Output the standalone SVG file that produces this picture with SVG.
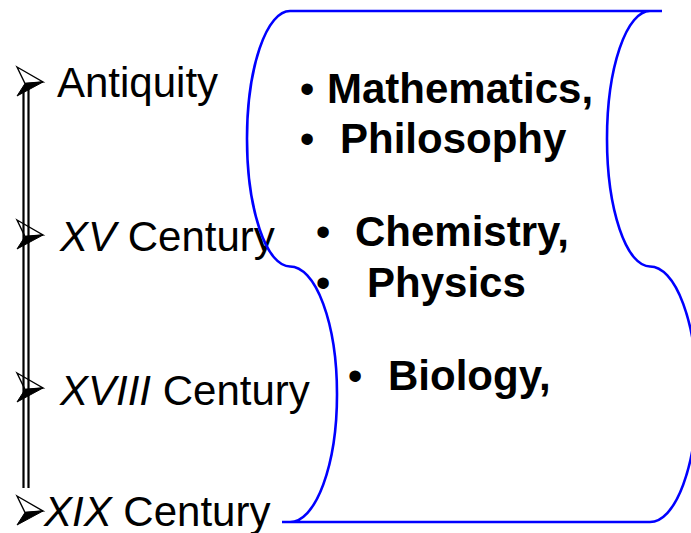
<svg xmlns="http://www.w3.org/2000/svg" width="691" height="533" viewBox="0 0 691 533">
<style>
.lt{font-family:"Liberation Sans",Arial,sans-serif;font-size:42px;fill:#000}
.rt{font-family:"Liberation Sans",Arial,sans-serif;font-size:42px;font-weight:bold;fill:#000}
.bl{font-family:"Liberation Sans",Arial,sans-serif;font-size:42px;fill:#000;text-anchor:middle}
.it{font-style:italic}
.rail{stroke:#000;stroke-width:2.2;fill:none}
.scroll{fill:none;stroke:#0000FF;stroke-width:2.6}
</style>
<defs>
<g id="arrowhead">
<polygon points="-26,-15 0,0 -18,1.5" fill="none" stroke="#000" stroke-width="1.4" stroke-linejoin="miter"/>
<polygon points="-18,1.5 0,0 -26,14" fill="#000" stroke="#000" stroke-width="1"/>
</g>
</defs>
<g id="timeline">
<line class="rail" x1="23.5" y1="88" x2="23.5" y2="488"/>
<line class="rail" x1="28.5" y1="88" x2="28.5" y2="488"/>
</g>
<g id="item-antiquity">
<use href="#arrowhead" x="43" y="82"/>
<text class="lt" x="57" y="97">Antiquity</text>
</g>
<g id="item-xv">
<use href="#arrowhead" x="43" y="235"/>
<text class="lt" x="60" y="251"><tspan class="it">XV</tspan> Century</text>
</g>
<g id="item-xviii">
<use href="#arrowhead" x="43" y="388"/>
<text class="lt" x="60" y="405"><tspan class="it">XVIII</tspan> Century</text>
</g>
<g id="item-xix">
<use href="#arrowhead" x="43" y="511"/>
<text class="lt" x="44" y="526"><tspan class="it">XIX</tspan> Century</text>
</g>
<g id="scroll">
<path class="scroll" d="M290,11 H650 A43,127.75 0 0 0 607,138.75 A43,127.75 0 0 0 650,266.5 A47,127.75 0 0 1 697,394.25 A47,127.75 0 0 1 650,522 H290 A47,127.75 0 0 0 337,394.25 A47,127.75 0 0 0 290,266.5 A43,127.75 0 0 1 247,138.75 A43,127.75 0 0 1 290,11 Z M650,11 H662 M282,522 H290"/>
</g>
<g id="sciences">
<text class="bl" x="307" y="103">•</text>
<text class="rt" x="327" y="103">Mathematics,</text>
<text class="bl" x="307" y="153">•</text>
<text class="rt" x="340" y="153">Philosophy</text>
<text class="bl" x="323" y="246">•</text>
<text class="rt" x="355" y="246">Chemistry,</text>
<text class="bl" x="323" y="297">•</text>
<text class="rt" x="367" y="297">Physics</text>
<text class="bl" x="355" y="390">•</text>
<text class="rt" x="388" y="390">Biology,</text>
</g>
</svg>
